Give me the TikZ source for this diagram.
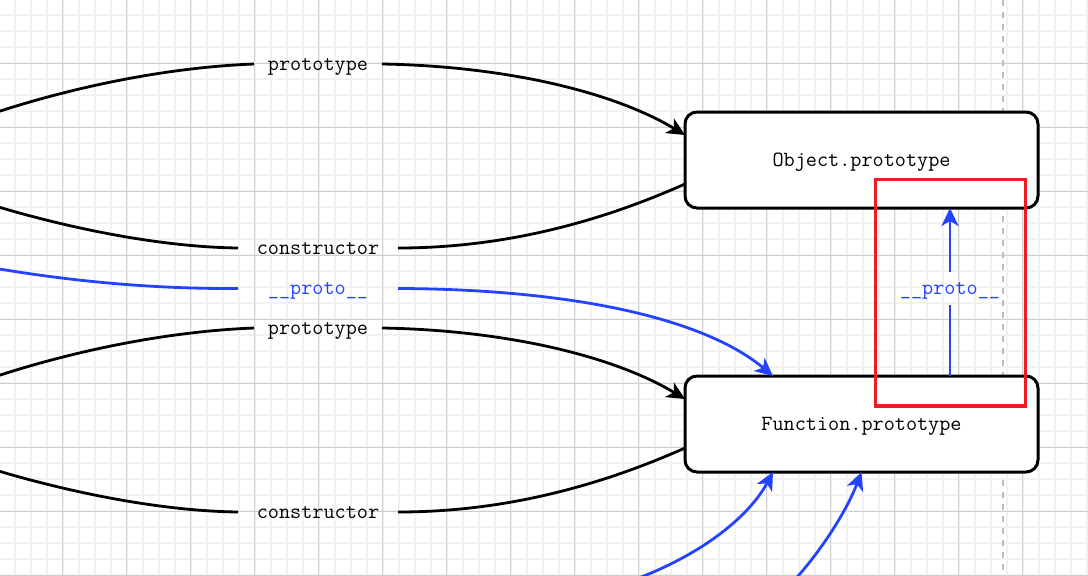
\documentclass[tikz,border=0pt]{standalone}
\usepackage{fontspec}
\usetikzlibrary{arrows.meta}

\definecolor{protoblue}{HTML}{2443FF}
\definecolor{markred}{HTML}{ED1C24}
\definecolor{gridmajor}{HTML}{CFCFCF}
\definecolor{gridminor}{HTML}{F2F2F2}
\definecolor{guidegray}{HTML}{BBBBBB}

\tikzset{
	box/.style={draw, line width=3pt, rounded corners=12pt, fill=white, minimum width=353pt, minimum height=96pt, inner sep=0pt, outer sep=0pt, font=\fontsize{21.6}{24}\ttfamily, text height=12pt, text depth=0pt},
	lbl/.style={inner sep=0pt, outer sep=0pt, font=\fontsize{21.6}{24}\ttfamily, text height=12pt, text depth=0pt},
	link/.style={line width=2.8pt},
	bluelink/.style={link, draw=protoblue},
	headed/.style={-{Stealth[length=18pt,width=17pt,inset=5pt]}},
}

\begin{document}
\begin{tikzpicture}[x=1pt, y=-1pt]

	\useasboundingbox (0,0) rectangle (1088,576);
	\clip (0,0) rectangle (1088,576);

	% Grid
	\foreach \k in {0,...,67} \draw [gridminor, line width=1.8pt] (14.7+16*\k,0) -- ++(0,576);
	\foreach \k in {0,...,35} \draw [gridminor, line width=1.8pt] (0,15.3+16*\k) -- ++(1088,0);
	\foreach \k in {0,...,15} \draw [gridmajor, line width=1.1pt] (62.7+64*\k,0) -- ++(0,576);
	\foreach \k in {0,...,8} \draw [gridmajor, line width=1.1pt] (0,63.3+64*\k) -- ++(1088,0);
	\draw [guidegray, line width=2pt, dash pattern=on 6pt off 6pt] (1003,0) -- (1003,576);

	% Objekter
	\node [box] (objproto) at (861.5,160) {Object.prototype};
	\node [box] (funproto) at (861.5,424) {Function.prototype};

	% Etiketter
	\node [lbl, minimum width=128pt] (ptA) at (318,64) {prototype};
	\node [lbl, minimum width=160pt] (ctA) at (318,248) {constructor};
	\node [lbl, minimum width=160pt, text=protoblue] (pxA) at (318,288.5) {\_\_proto\_\_};
	\node [lbl, minimum width=128pt] (ptB) at (318,328) {prototype};
	\node [lbl, minimum width=160pt] (ctB) at (318,512) {constructor};
	\node [lbl, minimum height=33pt, text=protoblue] (pxC) at (950,288.5) {\_\_proto\_\_};

	% Endepunkter utenfor bildet
	\coordinate (srcA) at (-40,125);
	\coordinate (srcB) at (-40,195);
	\coordinate (srcC) at (-40,262);
	\coordinate (srcD) at (-40,389);
	\coordinate (srcE) at (-40,459);
	\coordinate (srcF) at (610,588);
	\coordinate (srcG) at (785,590);

	% Object.prototype
	\draw [link] (srcA) .. controls (40,95) and (150,68) .. (ptA.west);
	\draw [link, headed] (ptA.east) .. controls (500,66) and (610,90) .. ([yshift=25pt]objproto.west);
	\draw [link] ([yshift=-24pt]objproto.west) .. controls (595,224) and (500,248) .. (ctA.east);
	\draw [link] (ctA.west) .. controls (160,247) and (60,228) .. (srcB);

	% __proto__ til Function.prototype
	\draw [bluelink] (srcC) .. controls (60,281) and (150,289) .. (pxA.west);
	\draw [bluelink, headed] (pxA.east) .. controls (560,289) and (700,315) .. ([xshift=-88.5pt]funproto.north);

	% Function.prototype
	\draw [link] (srcD) .. controls (40,359) and (150,332) .. (ptB.west);
	\draw [link, headed] (ptB.east) .. controls (500,330) and (610,354) .. ([yshift=25pt]funproto.west);
	\draw [link] ([yshift=-24pt]funproto.west) .. controls (595,488) and (500,512) .. (ctB.east);
	\draw [link] (ctB.west) .. controls (160,511) and (60,492) .. (srcE);

	% Nederst
	\draw [bluelink, headed] (srcF) .. controls (700,560) and (750,515) .. ([xshift=-88.5pt]funproto.south);
	\draw [bluelink, headed] (srcG) .. controls (815,560) and (845,515) .. (funproto.south);

	% Function.prototype.__proto__
	\draw [bluelink] ([xshift=88.5pt]funproto.north) -- (pxC.south);
	\draw [bluelink, headed] (pxC.north) -- ([xshift=88.5pt]objproto.south);

	% Markering
	\draw [markred, line width=3.3pt] (875.5,179.5) rectangle (1025.5,406);

\end{tikzpicture}
\end{document}
